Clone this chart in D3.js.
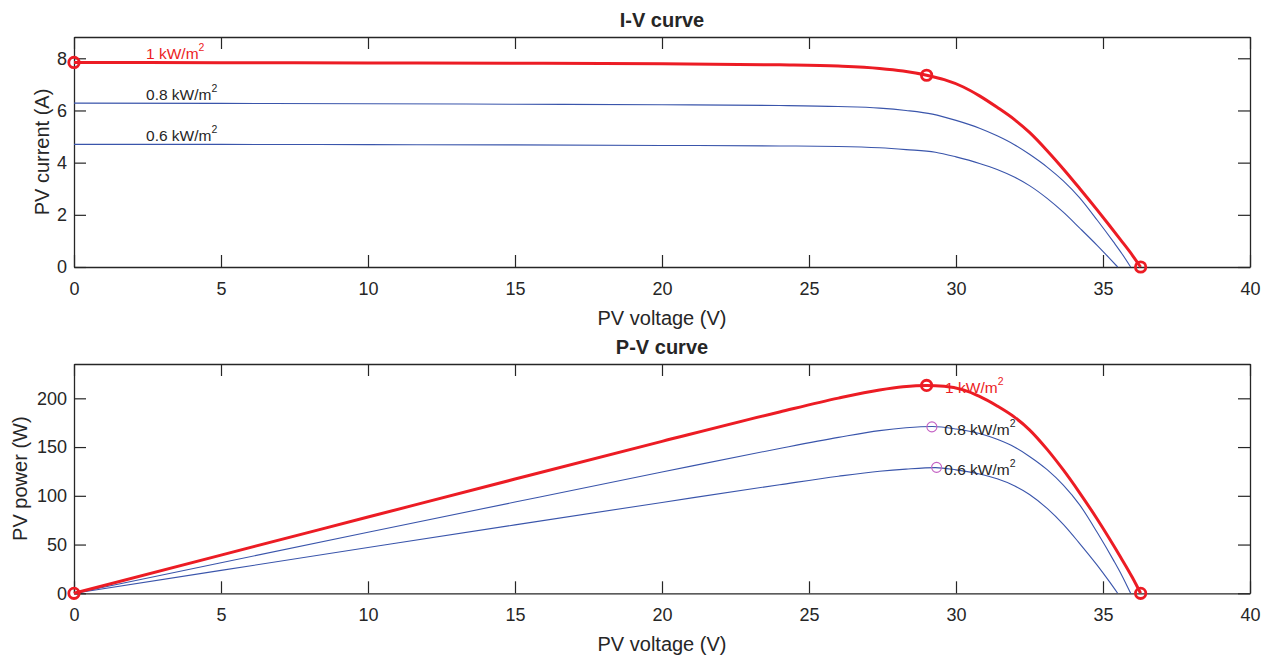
<!DOCTYPE html>
<html>
<head>
<meta charset="utf-8">
<script src="https://cdn.jsdelivr.net/npm/d3@7"></script>
<style>
  body { margin: 0; background: #fff; }
  svg { font-family: "Liberation Sans", Arial, Helvetica, sans-serif; }
</style>
</head>
<body>
<svg width="1270" height="655"></svg>
<script>
// values

// 1 kW/m2
const voltage10 = [0, 5, 10, 15, 20, 24, 26, 27.4, 28.2, 29.0, 29.6, 30.25, 30.8, 31.4, 32.0, 32.5, 33.1, 33.65, 34.2, 34.8, 35.2, 35.6, 36.0, 36.28];
const current10 = [7.84, 7.83, 7.82, 7.81, 7.79, 7.75, 7.70, 7.61, 7.51, 7.35, 7.18, 6.90, 6.56, 6.12, 5.64, 5.16, 4.46, 3.76, 3.02, 2.19, 1.62, 1.04, 0.45, 0];
const power10 = [0, 39.2, 78.2, 117.2, 155.8, 186.0, 200.2, 208.5, 211.8, 213.2, 212.5, 208.7, 202.0, 192.2, 180.5, 167.7, 147.6, 126.5, 103.3, 76.2, 57.0, 37.0, 16.2, 0];

// 0.8 kW/m2
const voltage08 = [0, 5, 10, 15, 20, 24, 26, 27.4, 28.3, 29.2, 30.0, 30.8, 31.4, 32.0, 32.5, 33.1, 33.65, 34.2, 34.8, 35.35, 35.65, 35.94];
const current08 = [6.28, 6.27, 6.26, 6.24, 6.22, 6.19, 6.15, 6.09, 6.00, 5.86, 5.62, 5.32, 5.03, 4.68, 4.32, 3.83, 3.30, 2.66, 1.80, 0.97, 0.50, 0];
const power08 = [0, 31.4, 62.6, 93.6, 124.4, 148.6, 159.9, 166.9, 169.8, 171.1, 168.6, 163.9, 157.9, 149.8, 140.4, 126.8, 111.0, 91.0, 62.6, 34.3, 17.8, 0];

// 0.6 kW/m2
const voltage06 = [0, 5, 10, 15, 20, 24, 26, 27.4, 28.3, 29.3, 30.0, 30.8, 31.4, 32.0, 32.5, 33.1, 33.65, 34.2, 34.8, 35.2, 35.5];
const current06 = [4.70, 4.70, 4.69, 4.68, 4.66, 4.64, 4.62, 4.57, 4.50, 4.40, 4.22, 3.97, 3.74, 3.44, 3.12, 2.63, 2.10, 1.50, 0.83, 0.36, 0];
const power06 = [0, 23.5, 46.9, 70.2, 93.2, 111.4, 120.1, 125.2, 127.4, 128.9, 126.6, 122.3, 117.4, 110.1, 101.4, 87.1, 70.7, 51.3, 28.9, 12.7, 0];

// marked points on the 1 kW/m2 curve: Isc, MPP, Voc
const markV = [0, 29.0, 36.28];
const markI = [7.84, 7.35, 0];
const markP = [0, 213.2, 0];
// MPP markers of the lower irradiances (P-V only)
const mppV = [29.18, 29.34];
const mppP = [170.7, 129.2];

const xTicks = [0, 5, 10, 15, 20, 25, 30, 35, 40];
const iTicks = [0, 2, 4, 6, 8];
const pTicks = [0, 50, 100, 150, 200];

const labelNames = ["1", "0.8", "0.6"];

const RED = "#ec1c24", BLUE = "#3a55ab", INK = "#262626", PURPLE = "#c462c4";

const svg = d3.select("svg");
const left = 74, right = 1250;

const x = d3.scaleLinear().domain([0, 40]).range([left, right]);

const zip = (vs, ys) => vs.map((v, i) => [v, ys[i]]);

function panel(opts) {
  const y = d3.scaleLinear().domain(opts.ydom).range([opts.bottom, opts.top]);
  const g = svg.append("g");
  const tk = 12;

  const xb = g.append("g").attr("transform", `translate(0,${opts.bottom})`)
    .call(d3.axisBottom(x).tickValues(xTicks).tickSizeInner(-tk).tickSizeOuter(0).tickPadding(12));
  g.append("g").attr("transform", `translate(0,${opts.top})`)
    .call(d3.axisTop(x).tickValues(xTicks).tickSizeInner(-tk).tickSizeOuter(0).tickFormat(""));
  g.append("g").attr("transform", `translate(${left},0)`)
    .call(d3.axisLeft(y).tickValues(opts.yticks).tickSizeInner(-tk).tickSizeOuter(0).tickPadding(7));
  g.append("g").attr("transform", `translate(${right},0)`)
    .call(d3.axisRight(y).tickValues(opts.yticks).tickSizeInner(-tk).tickSizeOuter(0).tickFormat(""));

  g.selectAll(".domain").attr("stroke", INK).attr("stroke-width", 1.3);
  g.selectAll(".tick line").attr("stroke", INK).attr("stroke-width", 1.2);
  g.selectAll(".tick text").attr("fill", INK).attr("font-size", 18)
    .attr("font-family", "'Liberation Sans', Arial, sans-serif");
  xb.selectAll(".tick text").attr("dy", "0.9em");

  const line = d3.line().x(d => x(d[0])).y(d => y(d[1])).curve(d3.curveMonotoneX);

  // blue curves first, red on top
  opts.series.slice(1).forEach(s => {
    g.append("path").datum(s).attr("d", line)
      .attr("fill", "none").attr("stroke", BLUE).attr("stroke-width", 1.1);
  });
  g.append("path").datum(opts.series[0]).attr("d", line)
    .attr("fill", "none").attr("stroke", RED).attr("stroke-width", 3);

  // labels
  opts.labels.forEach((l, i) => {
    const t = g.append("text")
      .attr("x", x(l[0])).attr("y", y(l[1]))
      .attr("dominant-baseline", "middle")
      .attr("font-size", 15.5)
      .attr("fill", i === 0 ? RED : INK);
    t.append("tspan").text(labelNames[i] + " kW/m");
    t.append("tspan").text("2").attr("font-size", 10.5).attr("dy", -7);
  });

  if (opts.mpp) {
    g.selectAll(".mpp").data(opts.mpp).join("circle")
      .attr("cx", d => x(d[0])).attr("cy", d => y(d[1])).attr("r", 5)
      .attr("fill", "none").attr("stroke", PURPLE).attr("stroke-width", 1.1);
  }

  g.selectAll(".mark").data(opts.marks).join("circle")
    .attr("cx", d => x(d[0])).attr("cy", d => y(d[1])).attr("r", 5.2)
    .attr("fill", "none").attr("stroke", RED).attr("stroke-width", 2.8);

  // title and axis labels
  g.append("text").attr("x", (left + right) / 2).attr("y", opts.top - 10)
    .attr("text-anchor", "middle").attr("font-size", 20).attr("font-weight", "bold")
    .attr("fill", INK).text(opts.title);
  g.append("text").attr("x", (left + right) / 2).attr("y", opts.bottom + 58)
    .attr("text-anchor", "middle").attr("font-size", 20)
    .attr("fill", INK).text("PV voltage (V)");
  g.append("text")
    .attr("transform", `translate(${opts.ylabelX},${(opts.top + opts.bottom) / 2}) rotate(-90)`)
    .attr("text-anchor", "middle").attr("font-size", 20)
    .attr("fill", INK).text(opts.ylabel);
}

panel({
  top: 37, bottom: 267, ydom: [0, 8.816], yticks: iTicks,
  title: "I-V curve", ylabel: "PV current (A)", ylabelX: 49,
  series: [zip(voltage10, current10), zip(voltage08, current08), zip(voltage06, current06)],
  labels: [[2.45, 8.12], [2.45, 6.55], [2.45, 4.98]],
  marks: zip(markV, markI)
});

panel({
  top: 364, bottom: 593.3, ydom: [0, 235.2], yticks: pTicks,
  title: "P-V curve", ylabel: "PV power (W)", ylabelX: 27,
  series: [zip(voltage10, power10), zip(voltage08, power08), zip(voltage06, power06)],
  labels: [[29.63, 209.5], [29.6, 166.6], [29.6, 125.8]],
  marks: zip(markV, markP),
  mpp: zip(mppV, mppP)
});
</script>
</body>
</html>
